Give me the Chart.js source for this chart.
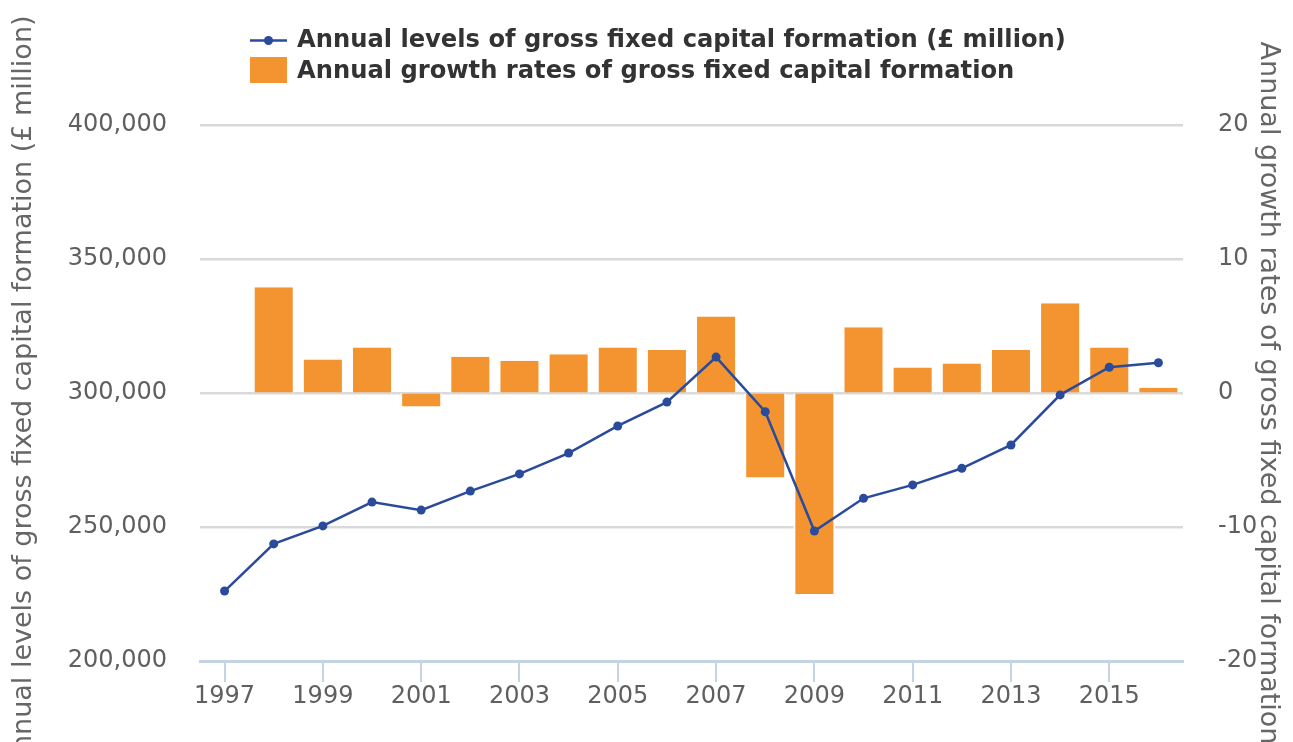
<!DOCTYPE html>
<html>
<head>
<meta charset="utf-8">
<script src="https://cdn.jsdelivr.net/npm/chart.js@4.4.1/dist/chart.umd.min.js"></script>
<style>
  html, body { margin: 0; padding: 0; background: #fff; }
  #wrap { width: 1293px; height: 742px; position: relative; }
</style>
</head>
<body>
<div id="wrap"><canvas id="c" width="1293" height="742"></canvas></div>
<script>
const years = ['1997','1998','1999','2000','2001','2002','2003','2004','2005','2006','2007','2008','2009','2010','2011','2012','2013','2014','2015','2016'];
const gfcfLevels = [226100, 243700, 250400, 259300, 256300, 263400, 269800, 277600, 287700, 296600, 313400, 293000, 248500, 260700, 265700, 271900, 280600, 299300, 309600, 311300];
const gfcfGrowth = [null, 7.9, 2.5, 3.4, -1.0, 2.7, 2.4, 2.9, 3.4, 3.2, 5.7, -6.3, -15.0, 4.9, 1.9, 2.2, 3.2, 6.7, 3.4, 0.4];
const levelLabel = 'Annual levels of gross fixed capital formation (£ million)';
const growthLabel = 'Annual growth rates of gross fixed capital formation';
const leftTicks = { min: 200000, max: 400000, step: 50000 };
const rightTicks = { min: -20, max: 20, step: 10 };

const BLUE = '#2A4B9B';
const ORANGE = '#F39431';
const FONT = "'DejaVu Sans', sans-serif";

const legendPlugin = {
  id: 'customLegend',
  afterDraw(chart) {
    const ctx = chart.ctx;
    const ds = chart.data.datasets;
    ctx.save();
    ctx.font = "bold 24.2px " + FONT;
    ctx.textBaseline = 'alphabetic';
    ctx.textAlign = 'left';
    const l = ds[0];
    ctx.strokeStyle = l.borderColor;
    ctx.lineWidth = 2.5;
    ctx.beginPath(); ctx.moveTo(250, 40.5); ctx.lineTo(287, 40.5); ctx.stroke();
    ctx.fillStyle = l.borderColor;
    ctx.beginPath(); ctx.arc(268.5, 40.5, 4.5, 0, Math.PI * 2); ctx.fill();
    ctx.fillStyle = '#333333';
    ctx.fillText(l.label, 297, 46.5);
    const b = ds[1];
    ctx.fillStyle = b.backgroundColor;
    ctx.fillRect(250, 57, 37, 26);
    ctx.fillStyle = '#333333';
    ctx.fillText(b.label, 297, 78);
    ctx.restore();
  }
};

new Chart(document.getElementById('c'), {
  data: {
    labels: years,
    datasets: [
      {
        type: 'line',
        label: levelLabel,
        data: gfcfLevels,
        yAxisID: 'y',
        borderColor: BLUE,
        backgroundColor: BLUE,
        pointBackgroundColor: BLUE,
        pointBorderWidth: 0,
        pointRadius: 4.5,
        borderWidth: 2.5,
        tension: 0,
        order: 0
      },
      {
        type: 'bar',
        label: growthLabel,
        data: gfcfGrowth,
        yAxisID: 'y2',
        backgroundColor: ORANGE,
        borderColor: 'rgba(255,255,255,0.95)',
        borderWidth: { left: 2, right: 2, top: 0, bottom: 0 },
        borderSkipped: false,
        categoryPercentage: 1.0,
        barPercentage: 0.855,
        order: 1
      }
    ]
  },
  options: {
    responsive: false,
    animation: false,
    layout: { padding: { top: 125, left: 0, right: 0, bottom: 0 } },
    plugins: { legend: { display: false }, tooltip: { enabled: false } },
    scales: {
      x: {
        type: 'category',
        offset: true,
        grid: { drawOnChartArea: false, offset: false, drawTicks: true, tickLength: 21, color: '#C5D4E4', lineWidth: 2 },
        border: { display: true, color: '#C5D4E4', width: 3 },
        ticks: { autoSkip: true, maxTicksLimit: 10, maxRotation: 0, minRotation: 0, padding: 0, color: '#5F5F5F', font: { family: FONT, size: 24 } },
        afterFit: s => { s.height = 81; }
      },
      y: {
        position: 'left',
        min: leftTicks.min, max: leftTicks.max,
        ticks: { stepSize: leftTicks.step, padding: 33, color: '#5F5F5F', font: { family: FONT, size: 24 } },
        grid: { color: '#D9D9D9', lineWidth: 2.5, drawTicks: false },
        border: { display: false },
        title: { display: true, text: levelLabel, color: '#666666', font: { family: FONT, size: 27 }, padding: { top: 8, bottom: 0 } },
        afterFit: s => { s.width = 200; }
      },
      y2: {
        position: 'right',
        min: rightTicks.min, max: rightTicks.max,
        ticks: { stepSize: rightTicks.step, padding: 35, color: '#5F5F5F', font: { family: FONT, size: 24 } },
        grid: { drawOnChartArea: false, drawTicks: false },
        border: { display: false },
        title: { display: true, text: growthLabel, color: '#666666', font: { family: FONT, size: 27 }, padding: { top: 9, bottom: 0 } },
        afterFit: s => { s.width = 110; }
      }
    }
  },
  plugins: [legendPlugin]
});
</script>
</body>
</html>
